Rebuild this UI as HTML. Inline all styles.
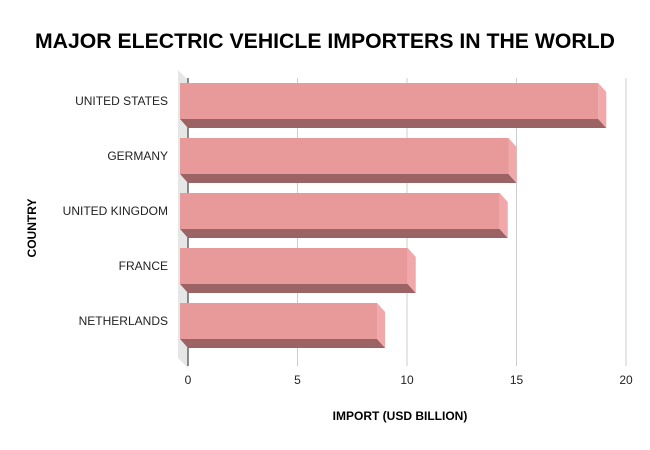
<!DOCTYPE html>
<html><head><meta charset="utf-8"><style>
body{margin:0;background:#fff;}
svg{display:block;font-family:"Liberation Sans",Arial,sans-serif;}
</style></head><body>
<svg id="c" width="650" height="450">
<text x="325" y="48" text-anchor="middle" font-size="21" font-weight="bold" fill="#000" textLength="580" lengthAdjust="spacingAndGlyphs">MAJOR ELECTRIC VEHICLE IMPORTERS IN THE WORLD</text>
<polygon points="178,70 188,80 188,368 178,358" fill="#e6e6e6"/>
<g id="grid"></g><g id="bars"></g><g id="labels"></g>
<text x="400" y="420" text-anchor="middle" font-size="12" font-weight="bold">IMPORT (USD BILLION)</text>
<text transform="translate(36,228) rotate(-90)" text-anchor="middle" font-size="12" font-weight="bold">COUNTRY</text>
</svg>
<script>
const categories=["UNITED STATES","GERMANY","UNITED KINGDOM","FRANCE","NETHERLANDS"];
const values=[19.1,15.0,14.6,10.4,9.0];
const ticks=[0,5,10,15,20];
const NS="http://www.w3.org/2000/svg";
const x=v=>188+v*21.9;
const yTop=i=>83+i*55;
function mk(t,a,p){const e=document.createElementNS(NS,t);for(const k in a)e.setAttribute(k,a[k]);p.appendChild(e);return e;}
const grid=document.getElementById('grid'),bars=document.getElementById('bars'),labels=document.getElementById('labels');
ticks.forEach(t=>{
 const l=mk('line',{x1:x(t),x2:x(t),y1:t===0?78:78,y2:366,stroke:t===0?'#666':'#ccc','stroke-width':t===0?1.5:1},grid);
 
 
 const tx=mk('text',{x:x(t),y:384,'text-anchor':'middle','font-size':12,fill:'#222'},labels);
 tx.textContent=t;
 
 
});
categories.forEach((c,i)=>{
 const t=yTop(i),x0=x(0),xv=x(values[i]),d=8,h=36,dy=9;
 const g=mk('g',{},bars);
 
 
 mk('polygon',{points:`${x0-d},${t+h} ${xv-d},${t+h} ${xv},${t+h+dy} ${x0},${t+h+dy}`,fill:'#9b6364'},g);
 mk('polygon',{points:`${xv-d},${t} ${xv},${t+dy} ${xv},${t+h+dy} ${xv-d},${t+h}`,fill:'#f0a8aa'},g);
 mk('rect',{x:x0-d,y:t,width:xv-x0,height:h,fill:'#e89a9b'},g);
 const tx=mk('text',{x:168,y:t+22,'text-anchor':'end','font-size':12,fill:'#222'},labels);
 tx.textContent=c;
 
 
});
</script>
</body></html>
